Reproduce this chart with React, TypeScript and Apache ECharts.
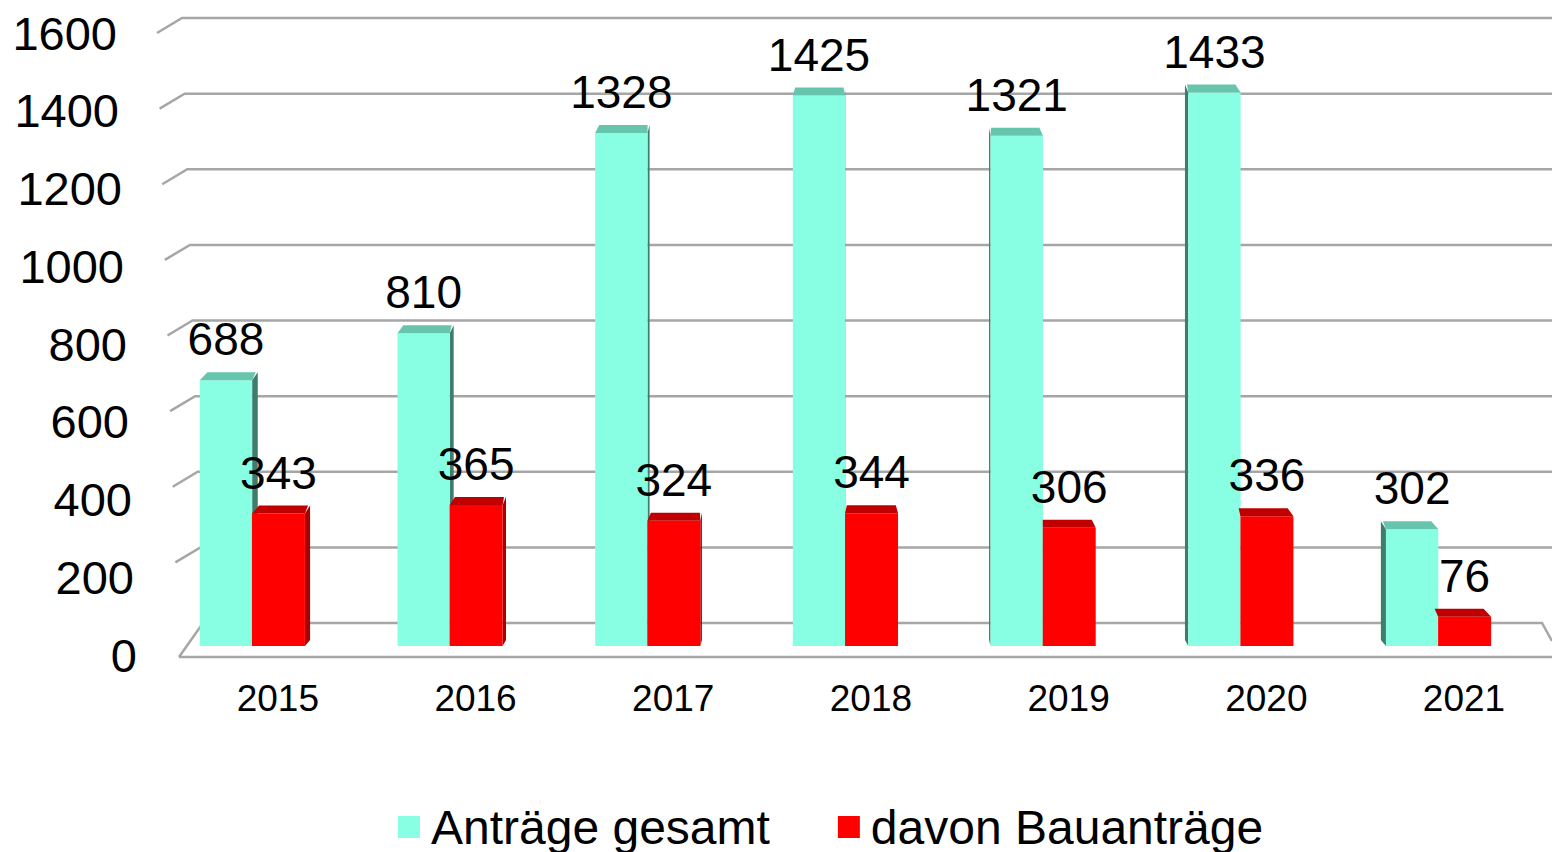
import React, { useEffect, useRef } from "react";
import * as echarts from "echarts";

const years = ["2015", "2016", "2017", "2018", "2019", "2020", "2021"];
const totalValues = [688, 810, 1328, 1425, 1321, 1433, 302];
const bauValues = [343, 365, 324, 344, 306, 336, 76];
const yTicks = [0, 200, 400, 600, 800, 1000, 1200, 1400, 1600];
const seriesNames = ["Anträge gesamt", "davon Bauanträge"];

const FONT = "'Liberation Sans', Arial, sans-serif";
const CYAN = { front: "#88FFE2", cap: "#67C5AE", side: "#3E7D6C" };
const RED = { front: "#FF0000", cap: "#C00000", side: "#A80000" };
const VP = 850;

function makeBarRenderer(kind: "total" | "bau") {
  const col = kind === "total" ? CYAN : RED;
  return (params: any, api: any) => {
    const pos = api.value(0);
    const val = api.value(1);
    const base = api.coord([pos, 0]);
    const top = api.coord([pos, val]);
    const bw = api.size([1, 0])[0];
    const cx = base[0];
    const x0 = kind === "total" ? cx - 0.395 * bw : cx - 0.131 * bw;
    const w = kind === "total" ? 0.265 * bw : 0.268 * bw;
    const x1 = x0 + w;
    const yb = base[1];
    const yt = top[1];
    const capH = 8;
    const dx = (VP - (x0 + x1) / 2) * 0.009;
    const children: any[] = [];
    if (dx > 0) {
      children.push({
        type: "polygon",
        shape: { points: [[x1, yb], [x1, yt], [x1 + dx, yt - capH], [x1 + dx, yb - 6]] },
        style: { fill: col.side },
      });
    } else if (dx < 0 && kind === "total") {
      children.push({
        type: "polygon",
        shape: { points: [[x0, yb], [x0, yt], [x0 + dx, yt - capH], [x0 + dx, yb - 6]] },
        style: { fill: col.side },
      });
    }
    children.push({
      type: "rect",
      shape: { x: x0, y: yt, width: w, height: yb - yt },
      style: { fill: col.front },
    });
    children.push({
      type: "polygon",
      shape: { points: [[x0, yt], [x1, yt], [x1 + dx - 2, yt - capH], [x0 + dx + 2, yt - capH]] },
      style: { fill: col.cap },
    });
    children.push({
      type: "text",
      style: {
        text: String(val),
        x: (x0 + x1) / 2,
        y: yt - capH - 10,
        align: "center",
        verticalAlign: "bottom",
        fontSize: 46,
        fontFamily: FONT,
        fill: "#000",
      },
      z2: 100,
    });
    if (kind === "total") {
      children.push({
        type: "text",
        style: {
          text: years[params.dataIndex],
          x: cx,
          y: yb + 52,
          align: "center",
          verticalAlign: "middle",
          fontSize: 37,
          fontFamily: FONT,
          fill: "#000",
        },
      });
    }
    return { type: "group", children };
  };
}

function renderWall(params: any, api: any) {
  const v = api.value(0);
  const y = api.coord([0, v])[1];
  const cs = params.coordSys;
  const right = cs.x + cs.width;
  const xL = 203 - (21 * v) / 1600;
  const style = { stroke: "#A6A6A6", lineWidth: 2.5, fill: "none" };
  if (v === 0) {
    return {
      type: "group",
      children: [
        {
          type: "polyline",
          shape: { points: [[xL - 24, y + 34], [xL, y], [right - 10, y], [right, y + 18]] },
          style,
        },
        {
          type: "line",
          shape: { x1: xL - 24, y1: y + 34, x2: right, y2: y + 34 },
          style,
        },
      ],
    };
  }
  return {
    type: "polyline",
    shape: { points: [[xL - 25, y + 15], [xL, y], [right, y]] },
    style,
  };
}

export default function App() {
  const ref = useRef<HTMLDivElement>(null);
  useEffect(() => {
    if (!ref.current) return;
    const chart = echarts.init(ref.current, null, { renderer: "svg" });
    const rich: any = {};
    yTicks.forEach((t, i) => {
      rich["r" + i] = {
        fontSize: 47,
        fontFamily: FONT,
        color: "#000",
        padding: [0, Math.round((20 * t) / 1600), 0, 0],
      };
    });
    chart.setOption({
      animation: false,
      backgroundColor: "#fff",
      grid: [
        { left: 179, right: 0, top: 28, bottom: 206 },
        { left: 0, right: 0, top: 18, bottom: 229 },
        { left: 137, right: 10, top: 33, bottom: 197 },
      ],
      xAxis: [
        { type: "value", gridIndex: 0, min: 0, max: 6.945, show: false },
        { type: "value", gridIndex: 1, min: 0, max: 1, show: false },
        { type: "value", gridIndex: 2, min: 0, max: 1, show: false },
      ],
      yAxis: [
        { type: "value", gridIndex: 0, min: 0, max: 1600, interval: 200, show: false },
        { type: "value", gridIndex: 1, min: 0, max: 1600, interval: 200, show: false },
        {
          type: "value",
          gridIndex: 2,
          min: 0,
          max: 1600,
          interval: 200,
          axisLine: { show: false },
          axisTick: { show: false },
          splitLine: { show: false },
          axisLabel: {
            margin: 0,
            formatter: (v: number) => `{r${Math.round(v / 200)}|${v}}`,
            rich,
          },
        },
      ],
      legend: {
        left: 393,
        top: 798,
        itemWidth: 22,
        itemHeight: 22,
        itemGap: 68,
        icon: "rect",
        data: seriesNames,
        textStyle: { fontSize: 48, fontFamily: FONT, color: "#000", padding: [0, 0, 0, 6] },
      },
      series: [
        {
          type: "custom",
          name: "wall",
          xAxisIndex: 1,
          yAxisIndex: 1,
          data: yTicks.map((t) => [t]),
          encode: { y: 0 },
          renderItem: renderWall,
          silent: true,
          z: 1,
        },
        {
          type: "custom",
          name: seriesNames[0],
          xAxisIndex: 0,
          yAxisIndex: 0,
          itemStyle: { color: CYAN.front },
          data: totalValues.map((v, i) => [i + 0.5, v]),
          encode: { x: 0, y: 1 },
          renderItem: makeBarRenderer("total"),
          z: 2,
        },
        {
          type: "custom",
          name: seriesNames[1],
          xAxisIndex: 0,
          yAxisIndex: 0,
          itemStyle: { color: RED.front },
          data: bauValues.map((v, i) => [i + 0.5, v]),
          encode: { x: 0, y: 1 },
          renderItem: makeBarRenderer("bau"),
          z: 3,
        },
      ],
    });
    return () => chart.dispose();
  }, []);
  return (
    <div
      ref={ref}
      style={{ position: "fixed", left: 0, top: 0, width: 1552, height: 852 }}
    />
  );
}
